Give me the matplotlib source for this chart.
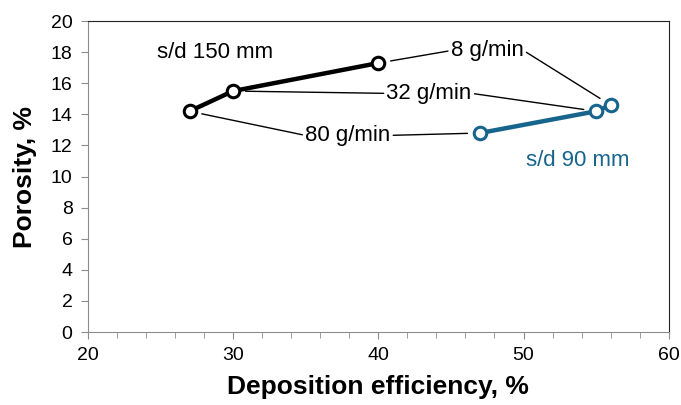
import numpy as np
import matplotlib.pyplot as plt

plt.rcParams['font.family'] = ['Liberation Sans', 'DejaVu Sans']

# s/d 150 mm series (black) and s/d 90 mm series (blue)
de_150 = [27, 30, 40]
por_150 = [14.2, 15.5, 17.3]
de_90 = [47, 55, 56]
por_90 = [12.8, 14.2, 14.6]

# feed rate labels: text, label position, index into each series
feed_labels = ['8 g/min', '32 g/min', '80 g/min']
feed_pos = [(47.5, 18.1), (43.5, 15.35), (37.9, 12.65)]
feed_idx_150 = [2, 1, 0]
feed_idx_90 = [2, 1, 0]

blue = '#17648d'

fig = plt.figure(figsize=(6.81, 4.05), dpi=100)
ax = fig.add_axes([0.129, 0.180, 0.853, 0.768])

ax.plot(de_150, por_150, '-o', color='black', lw=3.2, ms=9, mew=2.2,
        mfc='white', mec='black', zorder=3)
ax.plot(de_90, por_90, '-o', color=blue, lw=3.2, ms=9, mew=2.2,
        mfc='white', mec=blue, zorder=3)

for lab, pos, i1, i2 in zip(feed_labels, feed_pos, feed_idx_150, feed_idx_90):
    ax.annotate(lab, xy=(de_150[i1], por_150[i1]), xytext=pos,
                ha='center', va='center', fontsize=16,
                arrowprops=dict(arrowstyle='-', color='black', lw=1,
                                shrinkA=0, shrinkB=9, relpos=(0, 0.5)))
    ax.annotate(lab, xy=(de_90[i2], por_90[i2]), xytext=pos,
                ha='center', va='center', fontsize=16, color='none',
                arrowprops=dict(arrowstyle='-', color='black', lw=1,
                                shrinkA=0, shrinkB=9, relpos=(1, 0.5)))

ax.text(24.75, 17.95, 's/d 150 mm', ha='left', va='center', fontsize=16)
ax.text(53.7, 11.05, 's/d 90 mm', ha='center', va='center', fontsize=16,
        color=blue)

ax.set_xlim(20, 60)
ax.set_ylim(0, 20)
ax.set_xticks(np.arange(20, 61, 10))
ax.set_xticks(np.arange(20, 61, 2), minor=True)
ax.set_yticks(np.arange(0, 21, 2))

for s in ['left', 'bottom']:
    ax.spines[s].set_color('#8c8c8c')
for s in ['top', 'right']:
    ax.spines[s].set_color('#222222')
ax.tick_params(axis='both', which='major', colors='#8c8c8c', length=5,
               labelcolor='black', labelsize=14)
ax.tick_params(axis='y', which='major', pad=6)
ax.tick_params(axis='x', which='major', pad=6)
ax.tick_params(axis='x', which='minor', colors='#8c8c8c', length=4)

ax.set_xlabel('Deposition efficiency, %', fontsize=19, fontweight='bold',
              labelpad=8)
ax.set_ylabel('Porosity, %', fontsize=19, fontweight='bold', labelpad=10)

fig.savefig('out.png', dpi=100)
